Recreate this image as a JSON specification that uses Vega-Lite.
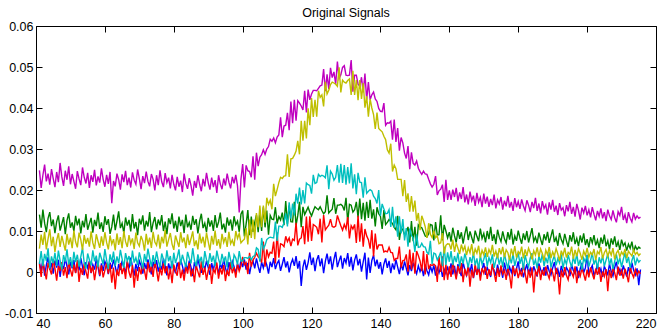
{"$schema":"https://vega.github.io/schema/vega-lite/v6.json","width":620,"height":287,"autosize":{"type":"none"},"padding":{"left":36,"top":26,"right":14,"bottom":22},"background":"white",
"title":{"text":"Original Signals","fontSize":12.5,"font":"Liberation Sans","fontWeight":"normal","color":"black","offset":1,"anchor":"middle"},
"config":{"view":{"stroke":"black","strokeWidth":1},"axis":{"labelFont":"Liberation Sans","labelFontSize":12.5,"labelColor":"black","domainColor":"black","tickColor":"black","tickSize":-6,"grid":false,"title":null}},
"data":{"values":[
{"x":41,"b":0.0023,"g":0.0140,"r":0.0019,"c":0.0020,"m":0.0248,"y":0.0057},
{"x":41.5,"b":0.0002,"g":0.0108,"r":-0.0012,"c":0.0051,"m":0.0205,"y":0.0091},
{"x":42,"b":0.0031,"g":0.0152,"r":0.0028,"c":0.0014,"m":0.0236,"y":0.0066},
{"x":42.5,"b":-0.0009,"g":0.0119,"r":0.0003,"c":0.0044,"m":0.0262,"y":0.0098},
{"x":43,"b":0.0017,"g":0.0097,"r":-0.0018,"c":0.0027,"m":0.0221,"y":0.0055},
{"x":43.5,"b":0.0036,"g":0.0131,"r":0.0022,"c":0.0058,"m":0.0240,"y":0.0081},
{"x":44,"b":0.0005,"g":0.0146,"r":0.0007,"c":0.0009,"m":0.0213,"y":0.0104},
{"x":44.5,"b":0.0022,"g":0.0112,"r":-0.0006,"c":0.0038,"m":0.0251,"y":0.0063},
{"x":45,"b":-0.0004,"g":0.0128,"r":0.0031,"c":0.0021,"m":0.0228,"y":0.0086},
{"x":45.5,"b":0.0028,"g":0.0095,"r":0.0009,"c":0.0047,"m":0.0207,"y":0.0049},
{"x":46,"b":0.0011,"g":0.0123,"r":-0.0021,"c":0.0015,"m":0.0244,"y":0.0077},
{"x":46.5,"b":0.0030,"g":0.0138,"r":0.0015,"c":0.0052,"m":0.0219,"y":0.0095},
{"x":47,"b":-0.0012,"g":0.0101,"r":0.0002,"c":0.0028,"m":0.0266,"y":0.0061},
{"x":47.5,"b":0.0019,"g":0.0117,"r":0.0024,"c":0.0006,"m":0.0232,"y":0.0088},
{"x":48,"b":0.0007,"g":0.0134,"r":-0.0009,"c":0.0041,"m":0.0210,"y":0.0070},
{"x":48.5,"b":0.0033,"g":0.0092,"r":0.0012,"c":0.0025,"m":0.0247,"y":0.0052},
{"x":49,"b":0.0014,"g":0.0126,"r":-0.0015,"c":0.0055,"m":0.0225,"y":0.0093},
{"x":49.5,"b":-0.0006,"g":0.0143,"r":0.0026,"c":0.0018,"m":0.0258,"y":0.0067},
{"x":50,"b":0.0025,"g":0.0108,"r":0.0005,"c":0.0036,"m":0.0214,"y":0.0084},
{"x":50.5,"b":0.0009,"g":0.0121,"r":-0.0011,"c":0.0011,"m":0.0239,"y":0.0058},
{"x":51,"b":0.0029,"g":0.0099,"r":0.0018,"c":0.0049,"m":0.0221,"y":0.0101},
{"x":51.5,"b":-0.0002,"g":0.0137,"r":-0.0003,"c":0.0024,"m":0.0203,"y":0.0073},
{"x":52,"b":0.0020,"g":0.0114,"r":0.0029,"c":0.0042,"m":0.0246,"y":0.0060},
{"x":52.5,"b":0.0004,"g":0.0130,"r":-0.0024,"c":0.0013,"m":0.0227,"y":0.0096},
{"x":53,"b":0.0034,"g":0.0094,"r":0.0010,"c":0.0037,"m":0.0212,"y":0.0079},
{"x":53.5,"b":0.0013,"g":0.0125,"r":-0.0007,"c":0.0059,"m":0.0255,"y":0.0054},
{"x":54,"b":-0.0008,"g":0.0109,"r":0.0021,"c":0.0022,"m":0.0231,"y":0.0090},
{"x":54.5,"b":0.0024,"g":0.0141,"r":0.0001,"c":0.0008,"m":0.0216,"y":0.0069},
{"x":55,"b":0.0010,"g":0.0103,"r":-0.0016,"c":0.0045,"m":0.0242,"y":0.0083},
{"x":55.5,"b":0.0027,"g":0.0118,"r":0.0025,"c":0.0030,"m":0.0205,"y":0.0062},
{"x":56,"b":-0.0003,"g":0.0132,"r":-0.0002,"c":0.0016,"m":0.0236,"y":0.0099},
{"x":56.5,"b":0.0018,"g":0.0096,"r":0.0014,"c":0.0053,"m":0.0220,"y":0.0071},
{"x":57,"b":0.0006,"g":0.0127,"r":-0.0020,"c":0.0026,"m":0.0249,"y":0.0056},
{"x":57.5,"b":0.0032,"g":0.0112,"r":0.0008,"c":0.0040,"m":0.0211,"y":0.0092},
{"x":58,"b":0.0012,"g":0.0145,"r":0.0027,"c":0.0012,"m":0.0233,"y":0.0075},
{"x":58.5,"b":-0.0010,"g":0.0105,"r":-0.0008,"c":0.0047,"m":0.0218,"y":0.0059},
{"x":59,"b":0.0021,"g":0.0121,"r":0.0016,"c":0.0033,"m":0.0253,"y":0.0087},
{"x":59.5,"b":0.0003,"g":0.0098,"r":-0.0013,"c":0.0019,"m":0.0226,"y":0.0064},
{"x":60,"b":0.0026,"g":0.0136,"r":0.0004,"c":0.0056,"m":0.0208,"y":0.0097},
{"x":60.5,"b":0.0015,"g":0.0115,"r":0.0023,"c":0.0029,"m":0.0237,"y":0.0072},
{"x":61,"b":-0.0005,"g":0.0129,"r":-0.0004,"c":0.0007,"m":0.0215,"y":0.0055},
{"x":61.5,"b":0.0023,"g":0.0093,"r":0.0019,"c":0.0043,"m":0.0244,"y":0.0089},
{"x":62,"b":0.0008,"g":0.0110,"r":-0.0026,"c":0.0024,"m":0.0168,"y":0.0068},
{"x":62.5,"b":0.0030,"g":0.0140,"r":0.0011,"c":0.0050,"m":0.0222,"y":0.0080},
{"x":63,"b":0.0014,"g":0.0102,"r":-0.0042,"c":0.0015,"m":0.0209,"y":0.0053},
{"x":63.5,"b":-0.0007,"g":0.0124,"r":0.0006,"c":0.0038,"m":0.0240,"y":0.0094},
{"x":64,"b":0.0019,"g":0.0148,"r":-0.0010,"c":0.0021,"m":0.0225,"y":0.0066},
{"x":64.5,"b":0.0005,"g":0.0107,"r":0.0022,"c":0.0054,"m":0.0201,"y":0.0085},
{"x":65,"b":0.0028,"g":0.0119,"r":-0.0005,"c":0.0032,"m":0.0238,"y":0.0058},
{"x":65.5,"b":0.0011,"g":0.0095,"r":0.0013,"c":0.0010,"m":0.0219,"y":0.0100},
{"x":66,"b":-0.0001,"g":0.0133,"r":-0.0017,"c":0.0046,"m":0.0247,"y":0.0074},
{"x":66.5,"b":0.0024,"g":0.0113,"r":0.0028,"c":0.0027,"m":0.0212,"y":0.0061},
{"x":67,"b":0.0009,"g":0.0127,"r":0.0000,"c":0.0039,"m":0.0230,"y":0.0090},
{"x":67.5,"b":0.0035,"g":0.0099,"r":-0.0014,"c":0.0014,"m":0.0206,"y":0.0069},
{"x":68,"b":0.0013,"g":0.0141,"r":0.0017,"c":0.0052,"m":0.0243,"y":0.0082},
{"x":68.5,"b":-0.0009,"g":0.0106,"r":-0.0038,"c":0.0023,"m":0.0224,"y":0.0056},
{"x":69,"b":0.0020,"g":0.0122,"r":0.0007,"c":0.0035,"m":0.0214,"y":0.0096},
{"x":69.5,"b":0.0002,"g":0.0090,"r":-0.0022,"c":0.0017,"m":0.0250,"y":0.0071},
{"x":70,"b":0.0027,"g":0.0130,"r":0.0012,"c":0.0048,"m":0.0228,"y":0.0063},
{"x":70.5,"b":0.0016,"g":0.0116,"r":-0.0006,"c":0.0030,"m":0.0202,"y":0.0088},
{"x":71,"b":-0.0004,"g":0.0138,"r":0.0020,"c":0.0008,"m":0.0234,"y":0.0076},
{"x":71.5,"b":0.0022,"g":0.0101,"r":0.0003,"c":0.0044,"m":0.0217,"y":0.0052},
{"x":72,"b":0.0007,"g":0.0125,"r":-0.0019,"c":0.0025,"m":0.0245,"y":0.0093},
{"x":72.5,"b":0.0031,"g":0.0111,"r":0.0024,"c":0.0057,"m":0.0221,"y":0.0067},
{"x":73,"b":0.0012,"g":0.0146,"r":-0.0001,"c":0.0034,"m":0.0209,"y":0.0084},
{"x":73.5,"b":-0.0006,"g":0.0097,"r":0.0015,"c":0.0013,"m":0.0239,"y":0.0059},
{"x":74,"b":0.0025,"g":0.0120,"r":-0.0012,"c":0.0041,"m":0.0226,"y":0.0098},
{"x":74.5,"b":0.0010,"g":0.0134,"r":0.0027,"c":0.0020,"m":0.0199,"y":0.0073},
{"x":75,"b":0.0029,"g":0.0104,"r":0.0005,"c":0.0050,"m":0.0236,"y":0.0065},
{"x":75.5,"b":0.0001,"g":0.0128,"r":-0.0023,"c":0.0028,"m":0.0212,"y":0.0091},
{"x":76,"b":0.0018,"g":0.0114,"r":0.0010,"c":0.0011,"m":0.0248,"y":0.0057},
{"x":76.5,"b":0.0006,"g":0.0139,"r":-0.0008,"c":0.0045,"m":0.0220,"y":0.0086},
{"x":77,"b":0.0033,"g":0.0100,"r":0.0021,"c":0.0031,"m":0.0207,"y":0.0070},
{"x":77.5,"b":0.0014,"g":0.0123,"r":-0.0003,"c":0.0016,"m":0.0241,"y":0.0102},
{"x":78,"b":-0.0008,"g":0.0092,"r":0.0014,"c":0.0053,"m":0.0218,"y":0.0062},
{"x":78.5,"b":0.0021,"g":0.0131,"r":-0.0018,"c":0.0026,"m":0.0230,"y":0.0079},
{"x":79,"b":0.0004,"g":0.0117,"r":0.0009,"c":0.0039,"m":0.0204,"y":0.0095},
{"x":79.5,"b":0.0026,"g":0.0143,"r":-0.0027,"c":0.0009,"m":0.0237,"y":0.0068},
{"x":80,"b":0.0011,"g":0.0106,"r":0.0018,"c":0.0047,"m":0.0214,"y":0.0054},
{"x":80.5,"b":-0.0003,"g":0.0125,"r":0.0002,"c":0.0022,"m":0.0199,"y":0.0089},
{"x":81,"b":0.0023,"g":0.0098,"r":-0.0009,"c":0.0036,"m":0.0232,"y":0.0075},
{"x":81.5,"b":0.0008,"g":0.0135,"r":0.0025,"c":0.0055,"m":0.0208,"y":0.0061},
{"x":82,"b":0.0030,"g":0.0112,"r":-0.0015,"c":0.0018,"m":0.0223,"y":0.0097},
{"x":82.5,"b":0.0015,"g":0.0127,"r":0.0006,"c":0.0042,"m":0.0195,"y":0.0072},
{"x":83,"b":-0.0005,"g":0.0095,"r":-0.0021,"c":0.0027,"m":0.0240,"y":0.0084},
{"x":83.5,"b":0.0020,"g":0.0140,"r":0.0013,"c":0.0012,"m":0.0216,"y":0.0058},
{"x":84,"b":0.0005,"g":0.0109,"r":-0.0004,"c":0.0049,"m":0.0203,"y":0.0092},
{"x":84.5,"b":0.0028,"g":0.0121,"r":0.0022,"c":0.0033,"m":0.0229,"y":0.0066},
{"x":85,"b":0.0012,"g":0.0103,"r":-0.0011,"c":0.0021,"m":0.0211,"y":0.0081},
{"x":85.5,"b":-0.0010,"g":0.0137,"r":0.0008,"c":0.0058,"m":0.0186,"y":0.0099},
{"x":86,"b":0.0024,"g":0.0115,"r":-0.0025,"c":0.0029,"m":0.0222,"y":0.0063},
{"x":86.5,"b":0.0009,"g":0.0129,"r":0.0016,"c":0.0014,"m":0.0205,"y":0.0077},
{"x":87,"b":0.0032,"g":0.0094,"r":0.0001,"c":0.0043,"m":0.0236,"y":0.0055},
{"x":87.5,"b":0.0013,"g":0.0124,"r":-0.0013,"c":0.0024,"m":0.0214,"y":0.0094},
{"x":88,"b":-0.0002,"g":0.0142,"r":0.0026,"c":0.0037,"m":0.0197,"y":0.0070},
{"x":88.5,"b":0.0019,"g":0.0107,"r":-0.0007,"c":0.0010,"m":0.0227,"y":0.0086},
{"x":89,"b":0.0006,"g":0.0119,"r":0.0011,"c":0.0051,"m":0.0209,"y":0.0060},
{"x":89.5,"b":0.0027,"g":0.0097,"r":-0.0019,"c":0.0030,"m":0.0242,"y":0.0096},
{"x":90,"b":0.0011,"g":0.0132,"r":0.0004,"c":0.0019,"m":0.0218,"y":0.0074},
{"x":90.5,"b":-0.0007,"g":0.0111,"r":0.0019,"c":0.0046,"m":0.0201,"y":0.0053},
{"x":91,"b":0.0022,"g":0.0126,"r":-0.0029,"c":0.0025,"m":0.0230,"y":0.0088},
{"x":91.5,"b":0.0003,"g":0.0100,"r":0.0007,"c":0.0040,"m":0.0207,"y":0.0067},
{"x":92,"b":0.0029,"g":0.0139,"r":-0.0002,"c":0.0015,"m":0.0224,"y":0.0101},
{"x":92.5,"b":0.0014,"g":0.0108,"r":0.0023,"c":0.0052,"m":0.0193,"y":0.0064},
{"x":93,"b":-0.0004,"g":0.0122,"r":-0.0016,"c":0.0032,"m":0.0236,"y":0.0080},
{"x":93.5,"b":0.0021,"g":0.0145,"r":0.0010,"c":0.0017,"m":0.0215,"y":0.0057},
{"x":94,"b":0.0008,"g":0.0104,"r":-0.0006,"c":0.0044,"m":0.0202,"y":0.0093},
{"x":94.5,"b":0.0031,"g":0.0118,"r":0.0017,"c":0.0026,"m":0.0228,"y":0.0072},
{"x":95,"b":0.0010,"g":0.0096,"r":-0.0022,"c":0.0038,"m":0.0211,"y":0.0085},
{"x":95.5,"b":-0.0006,"g":0.0133,"r":0.0005,"c":0.0011,"m":0.0240,"y":0.0061},
{"x":96,"b":0.0024,"g":0.0113,"r":-0.0010,"c":0.0049,"m":0.0219,"y":0.0098},
{"x":96.5,"b":0.0007,"g":0.0128,"r":0.0024,"c":0.0029,"m":0.0204,"y":0.0069},
{"x":97,"b":0.0026,"g":0.0101,"r":-0.0003,"c":0.0008,"m":0.0232,"y":0.0078},
{"x":97.5,"b":0.0013,"g":0.0136,"r":0.0012,"c":0.0042,"m":0.0216,"y":0.0063},
{"x":98,"b":-0.0003,"g":0.0115,"r":-0.0014,"c":0.0034,"m":0.0237,"y":0.0100},
{"x":98.5,"b":0.0020,"g":0.0124,"r":0.0020,"c":0.0018,"m":0.0210,"y":0.0082},
{"x":99,"b":0.0005,"g":0.0098,"r":0.0002,"c":0.0051,"m":0.0145,"y":0.0094},
{"x":99.5,"b":0.0028,"g":0.0141,"r":0.0015,"c":0.0027,"m":0.0226,"y":0.0071},
{"x":100,"b":0.0012,"g":0.0150,"r":0.0037,"c":0.0027,"m":0.0263,"y":0.0076},
{"x":100.5,"b":0.0031,"g":0.0087,"r":0.0018,"c":0.0035,"m":0.0206,"y":0.0080},
{"x":101,"b":0.0006,"g":0.0117,"r":0.0023,"c":0.0035,"m":0.0260,"y":0.0107},
{"x":101.5,"b":0.0022,"g":0.0151,"r":-0.0005,"c":0.0033,"m":0.0247,"y":0.0067},
{"x":102,"b":-0.0005,"g":0.0090,"r":0.0047,"c":0.0038,"m":0.0245,"y":0.0128},
{"x":102.5,"b":0.0018,"g":0.0135,"r":0.0013,"c":0.0030,"m":0.0231,"y":0.0083},
{"x":103,"b":0.0027,"g":0.0098,"r":0.0029,"c":0.0038,"m":0.0282,"y":0.0128},
{"x":103.5,"b":0.0009,"g":0.0121,"r":0.0036,"c":0.0040,"m":0.0225,"y":0.0080},
{"x":104,"b":0.0033,"g":0.0139,"r":0.0046,"c":0.0059,"m":0.0291,"y":0.0144},
{"x":104.5,"b":0.0014,"g":0.0097,"r":0.0037,"c":0.0055,"m":0.0258,"y":0.0109},
{"x":105,"b":-0.0002,"g":0.0145,"r":0.0033,"c":0.0025,"m":0.0280,"y":0.0162},
{"x":105.5,"b":0.0024,"g":0.0100,"r":0.0023,"c":0.0083,"m":0.0286,"y":0.0109},
{"x":106,"b":0.0010,"g":0.0158,"r":0.0074,"c":0.0056,"m":0.0298,"y":0.0162},
{"x":106.5,"b":0.0029,"g":0.0109,"r":0.0013,"c":0.0065,"m":0.0287,"y":0.0120},
{"x":107,"b":0.0017,"g":0.0150,"r":0.0055,"c":0.0079,"m":0.0300,"y":0.0181},
{"x":107.5,"b":-0.0004,"g":0.0091,"r":0.0037,"c":0.0083,"m":0.0306,"y":0.0165},
{"x":108,"b":0.0025,"g":0.0138,"r":0.0048,"c":0.0085,"m":0.0324,"y":0.0175},
{"x":108.5,"b":0.0012,"g":0.0129,"r":0.0046,"c":0.0084,"m":0.0319,"y":0.0153},
{"x":109,"b":0.0034,"g":0.0128,"r":0.0074,"c":0.0083,"m":0.0327,"y":0.0215},
{"x":109.5,"b":0.0007,"g":0.0158,"r":0.0021,"c":0.0123,"m":0.0315,"y":0.0185},
{"x":110,"b":0.0021,"g":0.0118,"r":0.0097,"c":0.0076,"m":0.0329,"y":0.0201},
{"x":110.5,"b":0.0028,"g":0.0135,"r":0.0035,"c":0.0112,"m":0.0334,"y":0.0218},
{"x":111,"b":0.0003,"g":0.0127,"r":0.0069,"c":0.0112,"m":0.0377,"y":0.0231},
{"x":111.5,"b":0.0019,"g":0.0145,"r":0.0067,"c":0.0109,"m":0.0329,"y":0.0228},
{"x":112,"b":0.0036,"g":0.0114,"r":0.0062,"c":0.0120,"m":0.0356,"y":0.0234},
{"x":112.5,"b":0.0011,"g":0.0173,"r":0.0087,"c":0.0143,"m":0.0358,"y":0.0235},
{"x":113,"b":0.0026,"g":0.0117,"r":0.0074,"c":0.0111,"m":0.0388,"y":0.0287},
{"x":113.5,"b":-0.0001,"g":0.0162,"r":0.0083,"c":0.0170,"m":0.0346,"y":0.0232},
{"x":114,"b":0.0020,"g":0.0123,"r":0.0063,"c":0.0130,"m":0.0416,"y":0.0276},
{"x":114.5,"b":0.0031,"g":0.0122,"r":0.0080,"c":0.0167,"m":0.0363,"y":0.0277},
{"x":115,"b":0.0015,"g":0.0171,"r":0.0077,"c":0.0138,"m":0.0420,"y":0.0285},
{"x":115.5,"b":0.0039,"g":0.0114,"r":0.0120,"c":0.0191,"m":0.0369,"y":0.0295},
{"x":116,"b":0.0008,"g":0.0138,"r":0.0065,"c":0.0167,"m":0.0418,"y":0.0320},
{"x":116.5,"b":0.0027,"g":0.0171,"r":0.0080,"c":0.0206,"m":0.0412,"y":0.0287},
{"x":117,"b":-0.0034,"g":0.0109,"r":0.0083,"c":0.0165,"m":0.0405,"y":0.0369},
{"x":117.5,"b":0.0012,"g":0.0159,"r":0.0112,"c":0.0200,"m":0.0395,"y":0.0320},
{"x":118,"b":0.0030,"g":0.0140,"r":0.0068,"c":0.0167,"m":0.0442,"y":0.0369},
{"x":118.5,"b":0.0005,"g":0.0149,"r":0.0135,"c":0.0217,"m":0.0389,"y":0.0326},
{"x":119,"b":0.0023,"g":0.0158,"r":0.0074,"c":0.0213,"m":0.0445,"y":0.0399},
{"x":119.5,"b":0.0048,"g":0.0146,"r":0.0136,"c":0.0211,"m":0.0420,"y":0.0358},
{"x":120,"b":0.0017,"g":0.0137,"r":0.0076,"c":0.0191,"m":0.0434,"y":0.0424},
{"x":120.5,"b":0.0035,"g":0.0149,"r":0.0116,"c":0.0237,"m":0.0443,"y":0.0378},
{"x":121,"b":0.0002,"g":0.0159,"r":0.0113,"c":0.0216,"m":0.0443,"y":0.0420},
{"x":121.5,"b":0.0029,"g":0.0155,"r":0.0109,"c":0.0218,"m":0.0442,"y":0.0379},
{"x":122,"b":0.0041,"g":0.0152,"r":0.0092,"c":0.0238,"m":0.0448,"y":0.0442},
{"x":122.5,"b":0.0014,"g":0.0159,"r":0.0130,"c":0.0233,"m":0.0454,"y":0.0426},
{"x":123,"b":0.0033,"g":0.0150,"r":0.0072,"c":0.0236,"m":0.0456,"y":0.0432},
{"x":123.5,"b":-0.0003,"g":0.0142,"r":0.0139,"c":0.0234,"m":0.0495,"y":0.0404},
{"x":124,"b":0.0026,"g":0.0147,"r":0.0103,"c":0.0230,"m":0.0441,"y":0.0464},
{"x":124.5,"b":0.0045,"g":0.0187,"r":0.0109,"c":0.0260,"m":0.0482,"y":0.0434},
{"x":125,"b":0.0019,"g":0.0144,"r":0.0114,"c":0.0202,"m":0.0446,"y":0.0443},
{"x":125.5,"b":0.0038,"g":0.0149,"r":0.0129,"c":0.0246,"m":0.0498,"y":0.0457},
{"x":126,"b":0.0006,"g":0.0153,"r":0.0111,"c":0.0239,"m":0.0474,"y":0.0463},
{"x":126.5,"b":0.0031,"g":0.0180,"r":0.0109,"c":0.0224,"m":0.0488,"y":0.0461},
{"x":127,"b":0.0049,"g":0.0142,"r":0.0112,"c":0.0231,"m":0.0458,"y":0.0458},
{"x":127.5,"b":0.0012,"g":0.0163,"r":0.0138,"c":0.0261,"m":0.0513,"y":0.0453},
{"x":128,"b":0.0027,"g":0.0163,"r":0.0125,"c":0.0218,"m":0.0472,"y":0.0499},
{"x":128.5,"b":0.0040,"g":0.0165,"r":0.0113,"c":0.0264,"m":0.0481,"y":0.0438},
{"x":129,"b":0.0008,"g":0.0161,"r":0.0102,"c":0.0217,"m":0.0499,"y":0.0468},
{"x":129.5,"b":0.0034,"g":0.0150,"r":0.0116,"c":0.0261,"m":0.0503,"y":0.0463},
{"x":130,"b":0.0022,"g":0.0181,"r":0.0105,"c":0.0213,"m":0.0480,"y":0.0461},
{"x":130.5,"b":0.0046,"g":0.0122,"r":0.0134,"c":0.0256,"m":0.0479,"y":0.0467},
{"x":131,"b":0.0013,"g":0.0165,"r":0.0082,"c":0.0216,"m":0.0480,"y":0.0471},
{"x":131.5,"b":0.0037,"g":0.0163,"r":0.0113,"c":0.0265,"m":0.0517,"y":0.0432},
{"x":132,"b":0.0004,"g":0.0146,"r":0.0105,"c":0.0204,"m":0.0440,"y":0.0491},
{"x":132.5,"b":0.0029,"g":0.0152,"r":0.0116,"c":0.0238,"m":0.0480,"y":0.0432},
{"x":133,"b":0.0043,"g":0.0171,"r":0.0071,"c":0.0190,"m":0.0480,"y":0.0468},
{"x":133.5,"b":0.0016,"g":0.0133,"r":0.0137,"c":0.0242,"m":0.0458,"y":0.0419},
{"x":134,"b":0.0032,"g":0.0179,"r":0.0074,"c":0.0219,"m":0.0453,"y":0.0468},
{"x":134.5,"b":0.0001,"g":0.0129,"r":0.0119,"c":0.0218,"m":0.0475,"y":0.0422},
{"x":135,"b":0.0025,"g":0.0169,"r":0.0062,"c":0.0181,"m":0.0438,"y":0.0461},
{"x":135.5,"b":0.0047,"g":0.0125,"r":0.0105,"c":0.0231,"m":0.0484,"y":0.0401},
{"x":136,"b":-0.0018,"g":0.0171,"r":0.0088,"c":0.0192,"m":0.0420,"y":0.0429},
{"x":136.5,"b":0.0035,"g":0.0132,"r":0.0079,"c":0.0197,"m":0.0463,"y":0.0379},
{"x":137,"b":-0.0002,"g":0.0176,"r":0.0057,"c":0.0201,"m":0.0420,"y":0.0422},
{"x":137.5,"b":0.0028,"g":0.0130,"r":0.0102,"c":0.0198,"m":0.0432,"y":0.0400},
{"x":138,"b":0.0041,"g":0.0153,"r":0.0038,"c":0.0185,"m":0.0439,"y":0.0384},
{"x":138.5,"b":0.0014,"g":0.0111,"r":0.0094,"c":0.0179,"m":0.0422,"y":0.0349},
{"x":139,"b":0.0030,"g":0.0158,"r":0.0055,"c":0.0167,"m":0.0416,"y":0.0389},
{"x":139.5,"b":0.0008,"g":0.0142,"r":0.0066,"c":0.0200,"m":0.0399,"y":0.0350},
{"x":140,"b":0.0024,"g":0.0136,"r":0.0066,"c":0.0137,"m":0.0392,"y":0.0346},
{"x":140.5,"b":-0.0006,"g":0.0105,"r":0.0066,"c":0.0166,"m":0.0391,"y":0.0342},
{"x":141,"b":0.0019,"g":0.0151,"r":0.0049,"c":0.0154,"m":0.0412,"y":0.0331},
{"x":141.5,"b":0.0033,"g":0.0116,"r":0.0051,"c":0.0142,"m":0.0358,"y":0.0323},
{"x":142,"b":0.0010,"g":0.0121,"r":0.0049,"c":0.0143,"m":0.0364,"y":0.0298},
{"x":142.5,"b":0.0027,"g":0.0128,"r":0.0060,"c":0.0152,"m":0.0363,"y":0.0290},
{"x":143,"b":-0.0003,"g":0.0123,"r":0.0048,"c":0.0110,"m":0.0368,"y":0.0313},
{"x":143.5,"b":0.0021,"g":0.0118,"r":0.0047,"c":0.0159,"m":0.0323,"y":0.0245},
{"x":144,"b":0.0006,"g":0.0109,"r":0.0028,"c":0.0108,"m":0.0372,"y":0.0261},
{"x":144.5,"b":0.0030,"g":0.0103,"r":0.0033,"c":0.0136,"m":0.0317,"y":0.0252},
{"x":145,"b":0.0012,"g":0.0137,"r":0.0033,"c":0.0086,"m":0.0351,"y":0.0226},
{"x":145.5,"b":-0.0005,"g":0.0078,"r":0.0062,"c":0.0136,"m":0.0296,"y":0.0226},
{"x":146,"b":0.0020,"g":0.0108,"r":0.0011,"c":0.0094,"m":0.0328,"y":0.0226},
{"x":146.5,"b":0.0004,"g":0.0103,"r":0.0028,"c":0.0129,"m":0.0315,"y":0.0185},
{"x":147,"b":0.0026,"g":0.0091,"r":0.0029,"c":0.0077,"m":0.0290,"y":0.0224},
{"x":147.5,"b":0.0009,"g":0.0097,"r":0.0043,"c":0.0107,"m":0.0277,"y":0.0171},
{"x":148,"b":-0.0008,"g":0.0110,"r":0.0001,"c":0.0062,"m":0.0307,"y":0.0192},
{"x":148.5,"b":0.0017,"g":0.0072,"r":0.0055,"c":0.0106,"m":0.0251,"y":0.0147},
{"x":149,"b":0.0002,"g":0.0124,"r":0.0006,"c":0.0089,"m":0.0292,"y":0.0185},
{"x":149.5,"b":0.0023,"g":0.0075,"r":0.0047,"c":0.0083,"m":0.0265,"y":0.0147},
{"x":150,"b":0.0008,"g":0.0110,"r":-0.0004,"c":0.0049,"m":0.0261,"y":0.0174},
{"x":150.5,"b":-0.0004,"g":0.0064,"r":0.0051,"c":0.0092,"m":0.0271,"y":0.0125},
{"x":151,"b":0.0015,"g":0.0115,"r":0.0040,"c":0.0060,"m":0.0253,"y":0.0144},
{"x":151.5,"b":0.0001,"g":0.0110,"r":0.0027,"c":0.0061,"m":0.0245,"y":0.0102},
{"x":152,"b":0.0012,"g":0.0108,"r":0.0002,"c":0.0070,"m":0.0238,"y":0.0137},
{"x":152.5,"b":-0.0010,"g":0.0098,"r":0.0051,"c":0.0062,"m":0.0246,"y":0.0125},
{"x":153,"b":0.0018,"g":0.0088,"r":-0.0006,"c":0.0061,"m":0.0239,"y":0.0110},
{"x":153.5,"b":0.0003,"g":0.0086,"r":0.0044,"c":0.0048,"m":0.0238,"y":0.0083},
{"x":154,"b":-0.0007,"g":0.0093,"r":0.0007,"c":0.0044,"m":0.0226,"y":0.0119},
{"x":154.5,"b":0.0014,"g":0.0116,"r":0.0018,"c":0.0076,"m":0.0215,"y":0.0092},
{"x":155,"b":0.0000,"g":0.0114,"r":0.0016,"c":0.0019,"m":0.0207,"y":0.0084},
{"x":155.5,"b":0.0016,"g":0.0077,"r":0.0019,"c":0.0046,"m":0.0214,"y":0.0101},
{"x":156,"b":-0.0009,"g":0.0122,"r":0.0015,"c":0.0044,"m":0.0234,"y":0.0084},
{"x":156.5,"b":0.0010,"g":0.0090,"r":-0.0024,"c":0.0029,"m":0.0188,"y":0.0088},
{"x":157,"b":-0.0002,"g":0.0091,"r":0.0038,"c":0.0038,"m":0.0198,"y":0.0069},
{"x":157.5,"b":0.0013,"g":0.0138,"r":0.0000,"c":0.0049,"m":0.0202,"y":0.0071},
{"x":158,"b":-0.0012,"g":0.0077,"r":0.0038,"c":0.0014,"m":0.0213,"y":0.0095},
{"x":158.5,"b":0.0007,"g":0.0115,"r":-0.0020,"c":0.0062,"m":0.0171,"y":0.0045},
{"x":159,"b":-0.0004,"g":0.0100,"r":0.0019,"c":0.0017,"m":0.0225,"y":0.0065},
{"x":159.5,"b":0.0011,"g":0.0083,"r":-0.0019,"c":0.0048,"m":0.0176,"y":0.0069},
{"x":160,"b":-0.0001,"g":0.0097,"r":0.0014,"c":0.0025,"m":0.0199,"y":0.0068},
{"x":160.5,"b":0.0021,"g":0.0074,"r":-0.0012,"c":0.0051,"m":0.0176,"y":0.0055},
{"x":161,"b":-0.0006,"g":0.0108,"r":0.0024,"c":0.0017,"m":0.0201,"y":0.0079},
{"x":161.5,"b":0.0015,"g":0.0088,"r":0.0003,"c":0.0039,"m":0.0183,"y":0.0049},
{"x":162,"b":-0.0013,"g":0.0072,"r":-0.0018,"c":0.0024,"m":0.0205,"y":0.0071},
{"x":162.5,"b":0.0019,"g":0.0102,"r":0.0015,"c":0.0047,"m":0.0172,"y":0.0058},
{"x":163,"b":0.0002,"g":0.0081,"r":-0.0004,"c":0.0013,"m":0.0194,"y":0.0044},
{"x":163.5,"b":-0.0010,"g":0.0097,"r":0.0022,"c":0.0038,"m":0.0178,"y":0.0067},
{"x":164,"b":0.0024,"g":0.0069,"r":-0.0025,"c":0.0020,"m":0.0207,"y":0.0052},
{"x":164.5,"b":0.0005,"g":0.0093,"r":0.0008,"c":0.0045,"m":0.0170,"y":0.0063},
{"x":165,"b":-0.0008,"g":0.0111,"r":-0.0010,"c":0.0029,"m":0.0189,"y":0.0041},
{"x":165.5,"b":0.0013,"g":0.0078,"r":0.0017,"c":0.0011,"m":0.0165,"y":0.0059},
{"x":166,"b":0.0001,"g":0.0099,"r":-0.0036,"c":0.0036,"m":0.0196,"y":0.0047},
{"x":166.5,"b":0.0020,"g":0.0084,"r":0.0006,"c":0.0022,"m":0.0174,"y":0.0068},
{"x":167,"b":-0.0015,"g":0.0070,"r":-0.0014,"c":0.0048,"m":0.0186,"y":0.0039},
{"x":167.5,"b":0.0009,"g":0.0101,"r":0.0019,"c":0.0016,"m":0.0161,"y":0.0056},
{"x":168,"b":-0.0003,"g":0.0087,"r":-0.0007,"c":0.0033,"m":0.0193,"y":0.0046},
{"x":168.5,"b":0.0017,"g":0.0075,"r":0.0011,"c":0.0007,"m":0.0170,"y":0.0064},
{"x":169,"b":-0.0011,"g":0.0106,"r":-0.0021,"c":0.0040,"m":0.0182,"y":0.0035},
{"x":169.5,"b":0.0006,"g":0.0082,"r":0.0009,"c":0.0019,"m":0.0158,"y":0.0053},
{"x":170,"b":0.0022,"g":0.0094,"r":-0.0003,"c":0.0031,"m":0.0191,"y":0.0042},
{"x":170.5,"b":-0.0007,"g":0.0072,"r":0.0013,"c":0.0046,"m":0.0167,"y":0.0060},
{"x":171,"b":0.0011,"g":0.0100,"r":-0.0017,"c":0.0014,"m":0.0184,"y":0.0037},
{"x":171.5,"b":0.0000,"g":0.0080,"r":0.0007,"c":0.0035,"m":0.0159,"y":0.0055},
{"x":172,"b":-0.0012,"g":0.0110,"r":-0.0009,"c":0.0023,"m":0.0178,"y":0.0045},
{"x":172.5,"b":0.0015,"g":0.0076,"r":0.0020,"c":0.0043,"m":0.0163,"y":0.0066},
{"x":173,"b":0.0004,"g":0.0092,"r":-0.0002,"c":0.0010,"m":0.0189,"y":0.0038},
{"x":173.5,"b":-0.0009,"g":0.0068,"r":-0.0024,"c":0.0029,"m":0.0155,"y":0.0051},
{"x":174,"b":0.0018,"g":0.0103,"r":0.0010,"c":0.0041,"m":0.0176,"y":0.0034},
{"x":174.5,"b":-0.0002,"g":0.0085,"r":-0.0012,"c":0.0018,"m":0.0166,"y":0.0058},
{"x":175,"b":0.0007,"g":0.0074,"r":0.0016,"c":0.0036,"m":0.0183,"y":0.0043},
{"x":175.5,"b":-0.0014,"g":0.0099,"r":-0.0005,"c":0.0012,"m":0.0152,"y":0.0061},
{"x":176,"b":0.0023,"g":0.0081,"r":0.0004,"c":0.0044,"m":0.0174,"y":0.0036},
{"x":176.5,"b":0.0003,"g":0.0071,"r":-0.0019,"c":0.0025,"m":0.0160,"y":0.0054},
{"x":177,"b":-0.0006,"g":0.0097,"r":0.0012,"c":0.0008,"m":0.0186,"y":0.0047},
{"x":177.5,"b":0.0012,"g":0.0079,"r":-0.0008,"c":0.0038,"m":0.0157,"y":0.0029},
{"x":178,"b":-0.0001,"g":0.0105,"r":-0.0040,"c":0.0021,"m":0.0171,"y":0.0057},
{"x":178.5,"b":0.0016,"g":0.0067,"r":0.0014,"c":0.0045,"m":0.0149,"y":0.0040},
{"x":179,"b":-0.0010,"g":0.0088,"r":-0.0006,"c":0.0015,"m":0.0180,"y":0.0063},
{"x":179.5,"b":0.0008,"g":0.0076,"r":0.0009,"c":0.0032,"m":0.0158,"y":0.0035},
{"x":180,"b":0.0026,"g":0.0101,"r":-0.0015,"c":0.0047,"m":0.0172,"y":0.0050},
{"x":180.5,"b":-0.0005,"g":0.0083,"r":0.0003,"c":0.0020,"m":0.0154,"y":0.0044},
{"x":181,"b":0.0010,"g":0.0069,"r":-0.0011,"c":0.0037,"m":0.0177,"y":0.0062},
{"x":181.5,"b":-0.0013,"g":0.0094,"r":0.0018,"c":0.0006,"m":0.0161,"y":0.0033},
{"x":182,"b":0.0005,"g":0.0078,"r":-0.0003,"c":0.0041,"m":0.0150,"y":0.0055},
{"x":182.5,"b":0.0019,"g":0.0100,"r":-0.0028,"c":0.0024,"m":0.0175,"y":0.0039},
{"x":183,"b":-0.0004,"g":0.0072,"r":0.0006,"c":0.0013,"m":0.0163,"y":0.0058},
{"x":183.5,"b":0.0009,"g":0.0089,"r":-0.0014,"c":0.0034,"m":0.0146,"y":0.0047},
{"x":184,"b":-0.0008,"g":0.0107,"r":0.0011,"c":0.0046,"m":0.0171,"y":0.0031},
{"x":184.5,"b":0.0014,"g":0.0075,"r":-0.0050,"c":0.0017,"m":0.0156,"y":0.0052},
{"x":185,"b":0.0001,"g":0.0085,"r":0.0002,"c":0.0030,"m":0.0181,"y":0.0041},
{"x":185.5,"b":-0.0011,"g":0.0070,"r":-0.0007,"c":0.0009,"m":0.0149,"y":0.0060},
{"x":186,"b":0.0021,"g":0.0096,"r":0.0015,"c":0.0039,"m":0.0167,"y":0.0037},
{"x":186.5,"b":0.0006,"g":0.0080,"r":-0.0020,"c":0.0023,"m":0.0143,"y":0.0056},
{"x":187,"b":-0.0003,"g":0.0066,"r":0.0005,"c":0.0044,"m":0.0173,"y":0.0045},
{"x":187.5,"b":0.0012,"g":0.0092,"r":-0.0009,"c":0.0014,"m":0.0155,"y":0.0028},
{"x":188,"b":-0.0009,"g":0.0077,"r":0.0013,"c":0.0035,"m":0.0164,"y":0.0053},
{"x":188.5,"b":0.0017,"g":0.0098,"r":-0.0004,"c":0.0021,"m":0.0140,"y":0.0042},
{"x":189,"b":0.0002,"g":0.0071,"r":-0.0016,"c":0.0048,"m":0.0170,"y":0.0061},
{"x":189.5,"b":-0.0007,"g":0.0087,"r":0.0008,"c":0.0011,"m":0.0152,"y":0.0034},
{"x":190,"b":0.0010,"g":0.0104,"r":-0.0001,"c":0.0028,"m":0.0176,"y":0.0049},
{"x":190.5,"b":0.0024,"g":0.0073,"r":-0.0023,"c":0.0040,"m":0.0147,"y":0.0039},
{"x":191,"b":-0.0005,"g":0.0084,"r":0.0010,"c":0.0016,"m":0.0162,"y":0.0057},
{"x":191.5,"b":0.0007,"g":0.0064,"r":-0.0006,"c":0.0033,"m":0.0139,"y":0.0044},
{"x":192,"b":-0.0012,"g":0.0095,"r":-0.0055,"c":0.0022,"m":0.0168,"y":0.0027},
{"x":192.5,"b":0.0015,"g":0.0079,"r":0.0004,"c":0.0043,"m":0.0151,"y":0.0052},
{"x":193,"b":0.0000,"g":0.0069,"r":-0.0013,"c":0.0008,"m":0.0157,"y":0.0040},
{"x":193.5,"b":-0.0006,"g":0.0093,"r":0.0012,"c":0.0031,"m":0.0136,"y":0.0059},
{"x":194,"b":0.0011,"g":0.0076,"r":-0.0008,"c":0.0019,"m":0.0163,"y":0.0035},
{"x":194.5,"b":0.0003,"g":0.0061,"r":-0.0019,"c":0.0042,"m":0.0148,"y":0.0048},
{"x":195,"b":-0.0010,"g":0.0090,"r":0.0007,"c":0.0025,"m":0.0171,"y":0.0043},
{"x":195.5,"b":0.0018,"g":0.0074,"r":-0.0002,"c":0.0012,"m":0.0142,"y":0.0062},
{"x":196,"b":0.0004,"g":0.0097,"r":-0.0012,"c":0.0037,"m":0.0159,"y":0.0032},
{"x":196.5,"b":-0.0004,"g":0.0068,"r":0.0014,"c":0.0020,"m":0.0135,"y":0.0054},
{"x":197,"b":0.0013,"g":0.0082,"r":-0.0027,"c":0.0045,"m":0.0166,"y":0.0038},
{"x":197.5,"b":-0.0015,"g":0.0063,"r":0.0003,"c":0.0015,"m":0.0150,"y":0.0057},
{"x":198,"b":0.0008,"g":0.0089,"r":-0.0010,"c":0.0030,"m":0.0128,"y":0.0046},
{"x":198.5,"b":0.0022,"g":0.0072,"r":0.0009,"c":0.0006,"m":0.0157,"y":0.0030},
{"x":199,"b":-0.0002,"g":0.0094,"r":-0.0005,"c":0.0034,"m":0.0144,"y":0.0051},
{"x":199.5,"b":0.0010,"g":0.0066,"r":-0.0021,"c":0.0024,"m":0.0161,"y":0.0040},
{"x":200,"b":0.0042,"g":0.0080,"r":0.0006,"c":0.0041,"m":0.0138,"y":0.0059},
{"x":200.5,"b":-0.0007,"g":0.0060,"r":-0.0013,"c":0.0013,"m":0.0152,"y":0.0036},
{"x":201,"b":0.0006,"g":0.0085,"r":0.0011,"c":0.0028,"m":0.0133,"y":0.0048},
{"x":201.5,"b":0.0016,"g":0.0071,"r":-0.0004,"c":0.0047,"m":0.0158,"y":0.0042},
{"x":202,"b":-0.0009,"g":0.0090,"r":-0.0018,"c":0.0018,"m":0.0141,"y":0.0056},
{"x":202.5,"b":0.0002,"g":0.0065,"r":0.0008,"c":0.0032,"m":0.0126,"y":0.0029},
{"x":203,"b":0.0019,"g":0.0078,"r":-0.0007,"c":0.0009,"m":0.0149,"y":0.0050},
{"x":203.5,"b":-0.0005,"g":0.0058,"r":0.0012,"c":0.0036,"m":0.0136,"y":0.0044},
{"x":204,"b":0.0008,"g":0.0084,"r":-0.0024,"c":0.0021,"m":0.0155,"y":0.0061},
{"x":204.5,"b":-0.0012,"g":0.0069,"r":0.0001,"c":0.0040,"m":0.0131,"y":0.0033},
{"x":205,"b":0.0014,"g":0.0091,"r":-0.0011,"c":0.0014,"m":0.0146,"y":0.0047},
{"x":205.5,"b":0.0003,"g":0.0063,"r":0.0007,"c":0.0029,"m":0.0124,"y":0.0055},
{"x":206,"b":-0.0006,"g":0.0076,"r":-0.0047,"c":0.0044,"m":0.0152,"y":0.0038},
{"x":206.5,"b":0.0020,"g":0.0055,"r":0.0005,"c":0.0017,"m":0.0137,"y":0.0052},
{"x":207,"b":0.0001,"g":0.0082,"r":-0.0015,"c":0.0033,"m":0.0128,"y":0.0041},
{"x":207.5,"b":-0.0010,"g":0.0067,"r":0.0010,"c":0.0007,"m":0.0150,"y":0.0058},
{"x":208,"b":0.0011,"g":0.0087,"r":-0.0002,"c":0.0026,"m":0.0133,"y":0.0031},
{"x":208.5,"b":0.0025,"g":0.0061,"r":-0.0020,"c":0.0043,"m":0.0121,"y":0.0046},
{"x":209,"b":-0.0003,"g":0.0074,"r":0.0013,"c":0.0019,"m":0.0147,"y":0.0053},
{"x":209.5,"b":0.0007,"g":0.0054,"r":-0.0009,"c":0.0035,"m":0.0138,"y":0.0037},
{"x":210,"b":-0.0008,"g":0.0079,"r":0.0004,"c":0.0012,"m":0.0159,"y":0.0049},
{"x":210.5,"b":0.0016,"g":0.0064,"r":-0.0016,"c":0.0031,"m":0.0127,"y":0.0042},
{"x":211,"b":0.0002,"g":0.0071,"r":0.0008,"c":0.0046,"m":0.0140,"y":0.0056},
{"x":211.5,"b":-0.0011,"g":0.0052,"r":-0.0006,"c":0.0022,"m":0.0119,"y":0.0034},
{"x":212,"b":0.0012,"g":0.0068,"r":-0.0025,"c":0.0037,"m":0.0146,"y":0.0051},
{"x":212.5,"b":-0.0004,"g":0.0058,"r":0.0011,"c":0.0010,"m":0.0131,"y":0.0045},
{"x":213,"b":0.0023,"g":0.0074,"r":-0.0003,"c":0.0028,"m":0.0122,"y":0.0039},
{"x":213.5,"b":0.0005,"g":0.0049,"r":-0.0013,"c":0.0041,"m":0.0144,"y":0.0054},
{"x":214,"b":-0.0007,"g":0.0063,"r":0.0006,"c":0.0016,"m":0.0129,"y":0.0043},
{"x":214.5,"b":0.0009,"g":0.0055,"r":-0.0008,"c":0.0033,"m":0.0137,"y":0.0048},
{"x":215,"b":-0.0032,"g":0.0061,"r":0.0002,"c":0.0024,"m":0.0131,"y":0.0040},
{"x":215.5,"b":0.0006,"g":0.0057,"r":-0.0004,"c":0.0029,"m":0.0134,"y":0.0045}
]},
"layer":[
{"mark":{"type":"line","color":"#0000FF","strokeWidth":1.4},"encoding":{"x":{"field":"x","type":"quantitative","scale":{"domain":[40,220],"nice":false,"zero":false},"axis":{"orient":"bottom","values":[40,60,80,100,120,140,160,180,200,220],"labelPadding":10,"domain":false}},"y":{"field":"b","type":"quantitative","scale":{"domain":[-0.01,0.06],"nice":false,"zero":false},"axis":{"orient":"left","values":[-0.01,0,0.01,0.02,0.03,0.04,0.05,0.06],"labelPadding":9,"domain":false,"labelExpr":"datum.value < 0 ? '-' + format(-datum.value, '~g') : format(datum.value, '~g')"}}}},
{"mark":{"type":"line","color":"#008000","strokeWidth":1.4},"encoding":{"x":{"field":"x","type":"quantitative","axis":{"orient":"top","values":[40,60,80,100,120,140,160,180,200,220],"labels":false,"domain":false}},"y":{"field":"g","type":"quantitative","axis":{"orient":"right","values":[-0.01,0,0.01,0.02,0.03,0.04,0.05,0.06],"labels":false,"domain":false}}}},
{"mark":{"type":"line","color":"#FF0000","strokeWidth":1.4},"encoding":{"x":{"field":"x","type":"quantitative","axis":null},"y":{"field":"r","type":"quantitative","axis":null}}},
{"mark":{"type":"line","color":"#00BFBF","strokeWidth":1.4},"encoding":{"x":{"field":"x","type":"quantitative","axis":null},"y":{"field":"c","type":"quantitative","axis":null}}},
{"mark":{"type":"line","color":"#BF00BF","strokeWidth":1.4},"encoding":{"x":{"field":"x","type":"quantitative","axis":null},"y":{"field":"m","type":"quantitative","axis":null}}},
{"mark":{"type":"line","color":"#BFBF00","strokeWidth":1.4},"encoding":{"x":{"field":"x","type":"quantitative","axis":null},"y":{"field":"y","type":"quantitative","axis":null}}}
],
"resolve":{"axis":{"x":"independent","y":"independent"}}
}
